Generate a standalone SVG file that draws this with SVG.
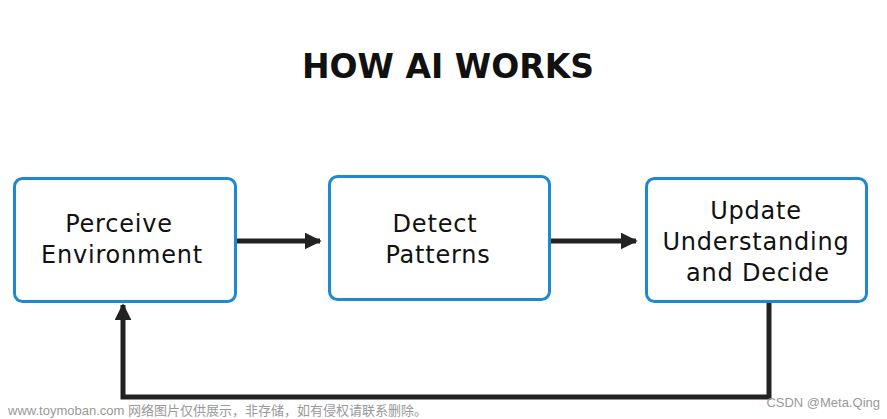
<svg xmlns="http://www.w3.org/2000/svg" width="887" height="419" viewBox="0 0 887 419">
<defs>
<style>
.box{fill:#fff;stroke:#1e88d2;stroke-width:3}
.lbl{font-family:"DejaVu Sans",sans-serif;font-size:24px;font-weight:normal;letter-spacing:0.8px;fill:#111;text-anchor:middle}
.con{fill:none;stroke:#222;stroke-width:5}
.wm{font-family:"Liberation Sans","Noto Sans CJK SC",sans-serif;font-size:13px;fill:#999}
</style>
<marker id="ah" viewBox="0 0 10 10" refX="9" refY="5" markerWidth="3.4" markerHeight="3.4" orient="auto" markerUnits="strokeWidth">
<path d="M0,0 L10,5 L0,10 z" fill="#222"/>
</marker>
</defs>
<rect width="887" height="419" fill="#fff"/>
<text x="448" y="78" font-family="'DejaVu Sans',sans-serif" font-size="33" font-weight="700" fill="#111" text-anchor="middle">HOW AI WORKS</text>
<g id="connectors">
<line class="con" x1="237" y1="241" x2="320" y2="241" marker-end="url(#ah)"/>
<line class="con" x1="551" y1="241" x2="636" y2="241" marker-end="url(#ah)"/>
<polyline class="con" points="769,303 769,397 123,397 123,305" marker-end="url(#ah)"/>
</g>
<g id="perceive">
<rect class="box" x="14.5" y="178.5" width="221" height="123" rx="8"/>
<text class="lbl" x="119" y="232">Perceive</text>
<text class="lbl" x="122" y="263">Environment</text>
</g>
<g id="detect">
<rect class="box" x="329.5" y="176.5" width="220" height="123" rx="8"/>
<text class="lbl" x="435" y="232">Detect</text>
<text class="lbl" x="438" y="263">Patterns</text>
</g>
<g id="update">
<rect class="box" x="646.5" y="178.5" width="220" height="123" rx="8"/>
<text class="lbl" x="756" y="219">Update</text>
<text class="lbl" x="756" y="250">Understanding</text>
<text class="lbl" x="758" y="281">and Decide</text>
</g>
<text class="wm" x="8" y="415">www.toymoban.com 网络图片仅供展示，非存储，如有侵权请联系删除。</text>
<text class="wm" x="880" y="407" text-anchor="end" font-size="15" fill="#888">CSDN @Meta.Qing</text>
</svg>
